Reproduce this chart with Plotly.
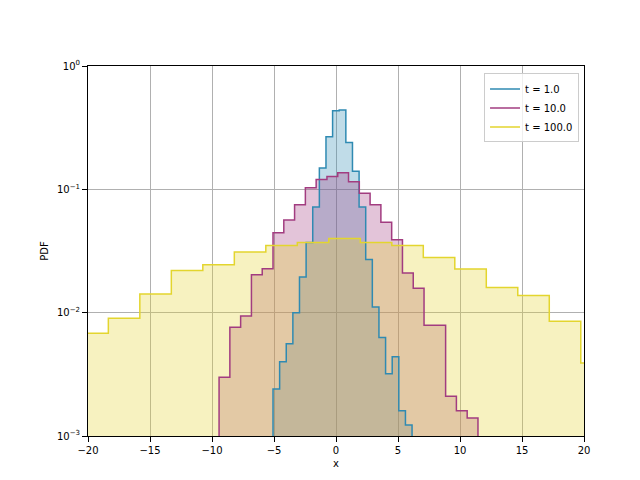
import numpy as np
import plotly.graph_objects as go

labels = ["t = 1.0", "t = 10.0", "t = 100.0"]
colors = ["#2f8ab2", "#a23c80", "#e3d52e"]
fills = ["rgba(47,138,178,0.3)", "rgba(162,60,128,0.3)", "rgba(227,213,46,0.3)"]

# bin starts and widths
starts = [-5.08, -9.43, -20.9]
widths = [0.534, 0.87, 2.54]

pdf_t1 = [0.0024, 0.0040, 0.0056, 0.010, 0.0195, 0.037, 0.072, 0.149, 0.267, 0.434,
          0.44, 0.24, 0.14, 0.072, 0.027, 0.0111, 0.0063, 0.0032, 0.0044, 0.0016, 0.00123]
pdf_t10 = [0.0030, 0.0076, 0.0094, 0.0203, 0.0227, 0.0445, 0.0563, 0.075, 0.103, 0.120,
           0.127, 0.136, 0.115, 0.093, 0.075, 0.054, 0.039, 0.021, 0.0158, 0.0079,
           0.0079, 0.0021, 0.0016, 0.0014]
pdf_t100 = [0.0068, 0.009, 0.0142, 0.022, 0.0245, 0.031, 0.035, 0.037, 0.040, 0.037,
            0.035, 0.028, 0.0226, 0.016, 0.0138, 0.0085, 0.0039]

fig = go.Figure()
for lab, col, fc, x0, w, vals in zip(labels, colors, fills, starts, widths, [pdf_t1, pdf_t10, pdf_t100]):
    n = len(vals)
    edges = x0 + w * np.arange(n + 1)
    centers = (edges[:-1] + edges[1:]) / 2
    fig.add_trace(go.Bar(x=centers, y=vals, width=w, marker=dict(color=fc, line_width=0),
                         showlegend=False, hoverinfo="skip"))
    xs = np.concatenate([[edges[0]], edges])
    ys = [1e-5] + list(vals) + [1e-5]
    fig.add_trace(go.Scatter(x=xs, y=ys, mode="lines", line=dict(color=col, width=1.5, shape="hv"),
                             name=lab))

axis = dict(showline=True, mirror=True, linecolor="black", linewidth=1, ticks="outside",
            tickcolor="black", showgrid=True, gridcolor="#b0b0b0", gridwidth=0.8,
            zeroline=False, automargin=False, tickfont=dict(size=10, color="black"))
fig.update_layout(
    width=640, height=480, plot_bgcolor="white", paper_bgcolor="white",
    margin=dict(l=80, r=64, t=58, b=52, autoexpand=False), barmode="overlay", bargap=0,
    font=dict(family="DejaVu Sans", size=10, color="black"),
    xaxis=dict(axis, range=[-20, 20], tickvals=list(range(-20, 21, 5)),
               title=dict(text="x", standoff=4, font=dict(size=10))),
    yaxis=dict(axis, type="log", range=[-3, 0], tickvals=[1e-3, 1e-2, 1e-1, 1],
               ticktext=["10<sup>−3</sup>", "10<sup>−2</sup>", "10<sup>−1</sup>", "10<sup>0</sup>"],
               title=dict(text="PDF", standoff=6, font=dict(size=10))),
    legend=dict(x=0.99, y=0.98, xanchor="right", yanchor="top", bgcolor="rgba(255,255,255,0.8)",
                bordercolor="#cccccc", borderwidth=1, font=dict(size=10)),
)
fig.write_html("out.html")
